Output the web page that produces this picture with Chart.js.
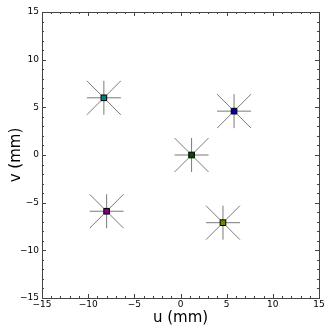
<!DOCTYPE html>
<html>
<head>
<meta charset="utf-8">
<script src="https://cdn.jsdelivr.net/npm/chart.js@4"></script>
<style>
  html, body { margin: 0; padding: 0; background: #fff; }
  #wrap { width: 332px; height: 332px; }
</style>
</head>
<body>
<div id="wrap"><canvas id="spotChart"></canvas></div>
<script>
'use strict'

// spot positions (mm)
let uVals = [-8.3, 5.8, 1.2, -8.0, 4.6];
let vVals = [6.0, 4.6, 0.0, -5.9, -7.1];
let spotColors = ['#008080', '#0000b0', '#005000', '#800080', '#808000'];

let axisMin = -15;
let axisMax = 15;
let majorTicks = [-15, -10, -5, 0, 5, 10, 15];

const points = uVals.map((u, i) => ({ x: u, y: vVals[i] }));

const fmt = v => (v < 0 ? '\u2212' + Math.abs(v) : String(v));

// matplotlib style frame with inward ticks
const frameTicks = {
    id: 'frameTicks',
    afterDraw(chart) {
        const { ctx, chartArea: a, scales } = chart;
        ctx.save();
        ctx.strokeStyle = '#444';
        ctx.lineWidth = 1;
        ctx.strokeRect(Math.round(a.left) + 0.5, Math.round(a.top) + 0.5,
            Math.round(a.right - a.left), Math.round(a.bottom - a.top));
        ctx.beginPath();
        for (let v = axisMin; v <= axisMax; v++) {
            const len = v % 5 === 0 ? 4 : 2;
            const px = Math.round(scales.x.getPixelForValue(v)) + 0.5;
            ctx.moveTo(px, a.bottom); ctx.lineTo(px, a.bottom - len);
            ctx.moveTo(px, a.top); ctx.lineTo(px, a.top + len);
            const py = Math.round(scales.y.getPixelForValue(v)) + 0.5;
            ctx.moveTo(a.left, py); ctx.lineTo(a.left + len, py);
            ctx.moveTo(a.right, py); ctx.lineTo(a.right - len, py);
        }
        ctx.stroke();
        ctx.restore();
    }
};

const dataSpots = {
    datasets: [
        {
            label: 'cross',
            data: points,
            pointStyle: 'cross',
            pointRadius: 17,
            borderColor: '#7a7a7a',
            borderWidth: 1,
            showLine: false,
            order: 2
        },
        {
            label: 'diag',
            data: points,
            pointStyle: 'crossRot',
            pointRadius: 24,
            borderColor: '#7a7a7a',
            borderWidth: 1,
            showLine: false,
            order: 1
        },
        {
            label: 'spots',
            data: points,
            pointStyle: 'rect',
            pointRadius: 4,
            backgroundColor: spotColors,
            borderColor: '#000',
            borderWidth: 1,
            showLine: false,
            order: 0
        }
    ]
};

const configSpots = {
    type: 'scatter',
    data: dataSpots,
    options: {
        responsive: false,
        animation: false,
        events: [],
        layout: { autoPadding: false, padding: { left: 0, right: 13, top: 12, bottom: 0 } },
        plugins: { legend: { display: false }, tooltip: { enabled: false } },
        scales: {
            x: {
                type: 'linear',
                min: axisMin,
                max: axisMax,
                afterBuildTicks: s => { s.ticks = majorTicks.map(v => ({ value: v })); },
                afterFit: s => { s.height = 34; s.paddingLeft = 0; s.paddingRight = 0; },
                grid: { display: false, drawTicks: false },
                border: { display: false },
                ticks: {
                    callback: v => fmt(v),
                    color: '#000',
                    font: { family: 'DejaVu Sans', size: 9 },
                    padding: 1,
                    maxRotation: 0
                },
                title: {
                    display: true,
                    text: 'u (mm)',
                    color: '#000',
                    font: { family: 'DejaVu Sans', size: 15 },
                    padding: { top: 0, bottom: 5 }
                }
            },
            y: {
                type: 'linear',
                min: axisMin,
                max: axisMax,
                afterBuildTicks: s => { s.ticks = majorTicks.map(v => ({ value: v })); },
                afterFit: s => { s.width = 42; s.paddingTop = 0; s.paddingBottom = 0; },
                grid: { display: false, drawTicks: false },
                border: { display: false },
                ticks: {
                    callback: v => fmt(v),
                    color: '#000',
                    font: { family: 'DejaVu Sans', size: 9 },
                    padding: 3
                },
                title: {
                    display: true,
                    text: 'v (mm)',
                    color: '#000',
                    font: { family: 'DejaVu Sans', size: 15 },
                    padding: { top: 7, bottom: 0 }
                }
            }
        }
    },
    plugins: [frameTicks]
};

const canvas = document.getElementById('spotChart');
canvas.width = 332;
canvas.height = 332;
const chartSpots = new Chart(canvas, configSpots);
</script>
</body>
</html>
